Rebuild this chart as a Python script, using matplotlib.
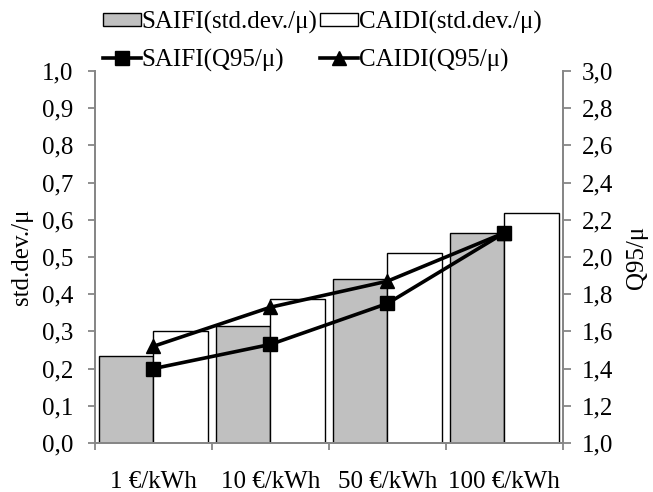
import matplotlib.pyplot as plt
import numpy as np
from matplotlib.ticker import FuncFormatter, FixedLocator, MultipleLocator

plt.rcParams['font.family'] = ['Liberation Serif', 'DejaVu Serif']
plt.rcParams['font.size'] = 18

# cost levels
categories = ['1 €/kWh', '10 €/kWh', '50 €/kWh', '100 €/kWh']
# std.dev./mu (left axis)
saifi_std = [0.233, 0.314, 0.442, 0.565]
caidi_std = [0.300, 0.387, 0.511, 0.619]
# Q95/mu (right axis)
saifi_q95 = [1.40, 1.53, 1.75, 2.13]
caidi_q95 = [1.52, 1.73, 1.87, 2.13]

grey = '#868686'
x = np.arange(len(categories))
w = 0.463


def comma(v, p):
    return f'{v:.1f}'.replace('.', ',')


fig = plt.figure(figsize=(6.53, 4.92), dpi=100)
ax = fig.add_axes([0.1455, 0.0996, 0.7165, 0.7561])

b1 = ax.bar(x - w / 2, saifi_std, w, color='#c0c0c0', edgecolor='black', linewidth=1.0)
b2 = ax.bar(x + w / 2, caidi_std, w, color='white', edgecolor='black', linewidth=1.0)
ax.set_xlim(-0.5, len(categories) - 0.5)
ax.set_ylim(0, 1.0)
ax.yaxis.set_major_locator(MultipleLocator(0.1))
ax.yaxis.set_major_formatter(FuncFormatter(comma))
ax.set_ylabel('std.dev./μ', labelpad=7)

# ticks between categories, labels in the middle
ax.xaxis.set_major_locator(FixedLocator(np.arange(-0.5, len(categories), 1.0)))
ax.xaxis.set_major_formatter(FuncFormatter(lambda v, p: ''))
ax.xaxis.set_minor_locator(FixedLocator(x))
ax.set_xticklabels(categories, minor=True)
ax.tick_params(axis='x', which='minor', length=0, pad=20)
ax.tick_params(axis='x', which='major', direction='out', length=5, width=1.3, color=grey)
ax.tick_params(axis='y', direction='out', length=5.4, width=1.3, color=grey, pad=10)

ax2 = ax.twinx()
l1, = ax2.plot(x, saifi_q95, color='black', lw=2.6, marker='s', markersize=9.5)
l2, = ax2.plot(x, caidi_q95, color='black', lw=2.6, marker='^', markersize=10)
ax2.set_ylim(1.0, 3.0)
ax2.yaxis.set_major_locator(MultipleLocator(0.2))
ax2.yaxis.set_major_formatter(FuncFormatter(comma))
ax2.set_ylabel('Q95/μ', labelpad=9)
ax2.tick_params(axis='y', direction='out', length=5.4, width=1.3, color=grey, pad=8.5)

for a in (ax, ax2):
    a.spines['top'].set_visible(False)
    for s in ('left', 'right', 'bottom'):
        a.spines[s].set_color(grey)
        a.spines[s].set_linewidth(1.3)

fig.legend([b1, l1, b2, l2],
           ['SAIFI(std.dev./μ)', 'SAIFI(Q95/μ)', 'CAIDI(std.dev./μ)', 'CAIDI(Q95/μ)'],
           ncol=2, loc='upper left', bbox_to_anchor=(98 / 653, 0.988), frameon=False,
           handlelength=1.5, handleheight=0.45, handletextpad=0.05, columnspacing=0.1,
           labelspacing=0.58, borderaxespad=0.0, borderpad=0.2)

fig.savefig('out.png', dpi=100)
